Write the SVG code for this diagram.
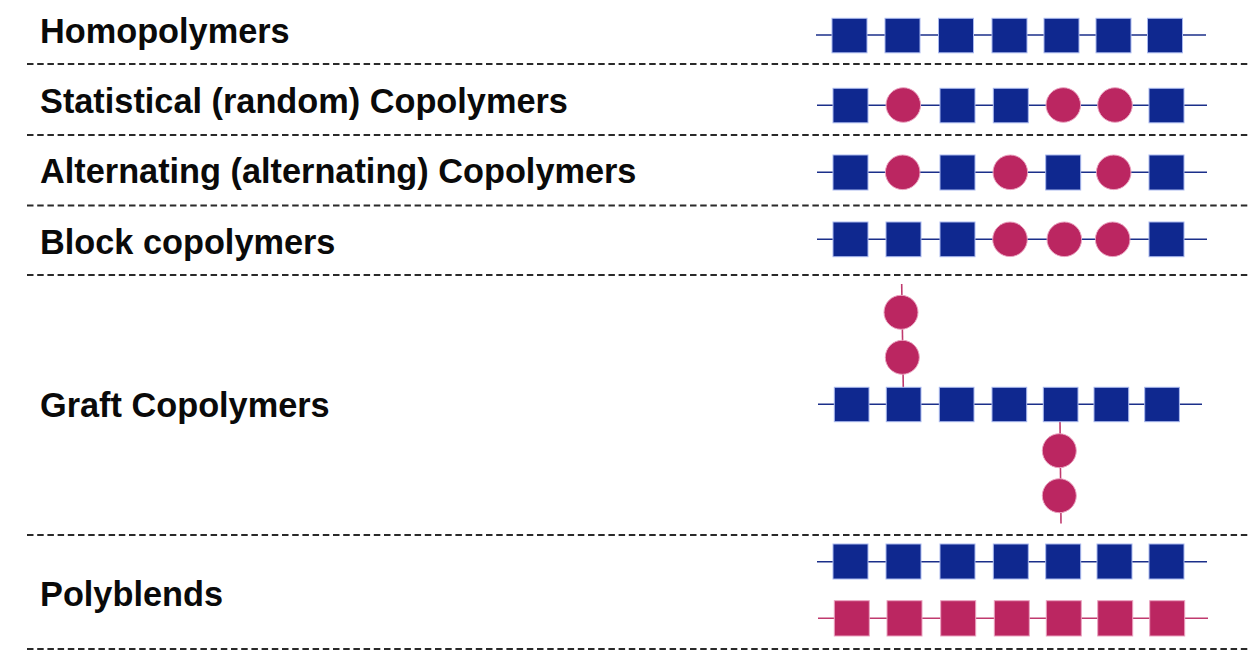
<svg xmlns="http://www.w3.org/2000/svg" width="1250" height="656" viewBox="0 0 1250 656">
<style>
.lbl{font-family:"Liberation Sans",Arial,sans-serif;font-weight:bold;font-size:34.3px;fill:#0a0a0a}
.sep{stroke:#2a2a2a;stroke-width:2;stroke-dasharray:6.5 3.7;fill:none}
.bl{stroke:#1b2f8a;stroke-width:1.5;fill:none}
.pl{stroke:#c03a6e;stroke-width:1.6;fill:none}
.bs{fill:#0f288f;stroke:#a9b8ee;stroke-width:1}
.ps{fill:#bb2661;stroke:#eaa3c0;stroke-width:1}
.pc{fill:#bb2661;stroke:#eaa3c0;stroke-width:1}
</style>
<rect width="1250" height="656" fill="#fff"/>
<g id="separators">
<line class="sep" x1="27" y1="64" x2="1250" y2="64"/>
<line class="sep" x1="27" y1="135" x2="1250" y2="135"/>
<line class="sep" x1="27" y1="205.5" x2="1250" y2="205.5"/>
<line class="sep" x1="27" y1="275" x2="1250" y2="275"/>
<line class="sep" x1="27" y1="535" x2="1250" y2="535"/>
<line class="sep" x1="27" y1="649" x2="1250" y2="649"/>
</g>
<g id="connectors">
<line class="bl" x1="816" y1="35" x2="1206" y2="35"/>
<line class="bl" x1="817" y1="105.3" x2="1207" y2="105.3"/>
<line class="bl" x1="817" y1="172.3" x2="1207" y2="172.3"/>
<line class="bl" x1="817" y1="239.3" x2="1207" y2="239.3"/>
<line class="bl" x1="818" y1="404.3" x2="1202" y2="404.3"/>
<line class="pl" x1="901.7" y1="284" x2="903.3" y2="388"/>
<line class="pl" x1="1060" y1="421" x2="1061" y2="523.5"/>
<line class="bl" x1="817" y1="561.7" x2="1207" y2="561.7"/>
<line class="pl" x1="818" y1="618.3" x2="1208" y2="618.3"/>
</g>
<g id="homopolymers">
<text class="lbl" x="40" y="43">Homopolymers</text>
<rect class="bs" x="832" y="18.3" width="35" height="34.5"/>
<rect class="bs" x="885" y="18.3" width="35" height="34.5"/>
<rect class="bs" x="938.5" y="18.3" width="35" height="34.5"/>
<rect class="bs" x="992" y="18.3" width="35" height="34.5"/>
<rect class="bs" x="1044" y="18.3" width="35" height="34.5"/>
<rect class="bs" x="1096" y="18.3" width="35" height="34.5"/>
<rect class="bs" x="1147.5" y="18.3" width="35" height="34.5"/>
</g>
<g id="statistical">
<text class="lbl" x="40" y="113">Statistical (random) Copolymers</text>
<rect class="bs" x="833" y="88.3" width="35" height="34.5"/>
<circle class="pc" cx="903.3" cy="105" r="17.3"/>
<rect class="bs" x="940" y="88.3" width="35" height="34.5"/>
<rect class="bs" x="993.3" y="88.3" width="35" height="34.5"/>
<circle class="pc" cx="1063.3" cy="105" r="17.3"/>
<circle class="pc" cx="1115" cy="105" r="17.3"/>
<rect class="bs" x="1149" y="88.3" width="35" height="34.5"/>
</g>
<g id="alternating">
<text class="lbl" x="40" y="183">Alternating (alternating) Copolymers</text>
<rect class="bs" x="833" y="155" width="35" height="35"/>
<circle class="pc" cx="902.7" cy="172.3" r="17.3"/>
<rect class="bs" x="940" y="155" width="35" height="35"/>
<circle class="pc" cx="1010.3" cy="172.3" r="17.3"/>
<rect class="bs" x="1045.7" y="155" width="35" height="35"/>
<circle class="pc" cx="1113.7" cy="172.3" r="17.3"/>
<rect class="bs" x="1149" y="155" width="35" height="35"/>
</g>
<g id="block">
<text class="lbl" x="40" y="254">Block copolymers</text>
<rect class="bs" x="833" y="222" width="35" height="34.7"/>
<rect class="bs" x="886" y="222" width="35" height="34.7"/>
<rect class="bs" x="940" y="222" width="35" height="34.7"/>
<circle class="pc" cx="1010" cy="239.3" r="17.3"/>
<circle class="pc" cx="1064.3" cy="239.3" r="17.3"/>
<circle class="pc" cx="1112.7" cy="239.3" r="17.3"/>
<rect class="bs" x="1149" y="222" width="35" height="34.7"/>
</g>
<g id="graft">
<text class="lbl" x="40" y="417">Graft Copolymers</text>
<circle class="pc" cx="901" cy="312.3" r="17"/>
<circle class="pc" cx="902.3" cy="357.3" r="17"/>
<rect class="bs" x="834.3" y="387.3" width="34.7" height="34.4"/>
<rect class="bs" x="886.3" y="387.3" width="34.7" height="34.4"/>
<rect class="bs" x="939.3" y="387.3" width="34.7" height="34.4"/>
<rect class="bs" x="992" y="387.3" width="34.7" height="34.4"/>
<rect class="bs" x="1043.3" y="387.3" width="34.7" height="34.4"/>
<rect class="bs" x="1094" y="387.3" width="34.7" height="34.4"/>
<rect class="bs" x="1144.7" y="387.3" width="34.7" height="34.4"/>
<circle class="pc" cx="1059.3" cy="450.7" r="17"/>
<circle class="pc" cx="1059.3" cy="495.7" r="17"/>
</g>
<g id="polyblends">
<text class="lbl" x="40" y="606">Polyblends</text>
<rect class="bs" x="833" y="544" width="35" height="35"/>
<rect class="bs" x="886" y="544" width="35" height="35"/>
<rect class="bs" x="940" y="544" width="35" height="35"/>
<rect class="bs" x="993.3" y="544" width="35" height="35"/>
<rect class="bs" x="1045.7" y="544" width="35" height="35"/>
<rect class="bs" x="1097" y="544" width="35" height="35"/>
<rect class="bs" x="1149" y="544" width="35" height="35"/>
<rect class="ps" x="834.3" y="600.7" width="35" height="35.3"/>
<rect class="ps" x="887" y="600.7" width="35" height="35.3"/>
<rect class="ps" x="940.7" y="600.7" width="35" height="35.3"/>
<rect class="ps" x="994.3" y="600.7" width="35" height="35.3"/>
<rect class="ps" x="1046.3" y="600.7" width="35" height="35.3"/>
<rect class="ps" x="1097.7" y="600.7" width="35" height="35.3"/>
<rect class="ps" x="1149.7" y="600.7" width="35" height="35.3"/>
</g>
</svg>
